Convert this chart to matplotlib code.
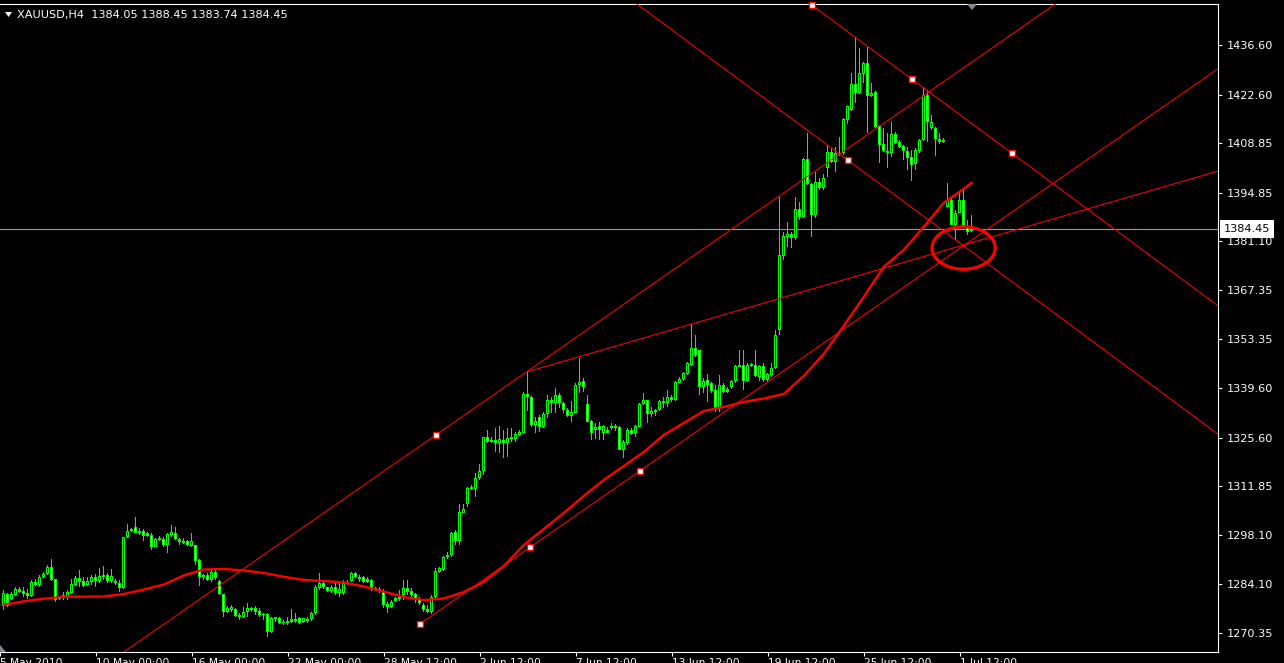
import matplotlib
matplotlib.use("Agg")
import matplotlib.pyplot as plt
from matplotlib.patches import Ellipse, Polygon

symbol = "XAUUSD,H4"

opens = [
    1277.98, 1281.28, 1279.86, 1281.09, 1282.69, 1282.31, 1281.75, 1280.81, 1284.86, 1283.92,
    1286.08, 1287.03, 1289.10, 1285.52, 1279.86, 1280.43, 1280.62, 1281.56, 1283.92, 1285.80,
    1285.14, 1283.92, 1284.86, 1286.08, 1285.14, 1286.08, 1286.74, 1285.14, 1285.14, 1284.39,
    1282.97, 1297.39, 1299.28, 1300.22, 1298.71, 1299.28, 1298.53, 1298.05, 1294.76, 1296.64,
    1296.83, 1295.23, 1298.05, 1298.71, 1296.83, 1296.45, 1296.26, 1294.94, 1295.23, 1290.99,
    1286.08, 1286.74, 1285.33, 1287.69, 1285.05, 1281.37, 1276.38, 1276.85, 1277.04, 1275.43,
    1274.77, 1276.38, 1277.32, 1277.32, 1276.66, 1275.43, 1275.72, 1270.72, 1274.21, 1274.49,
    1273.08, 1273.08, 1274.21, 1273.83, 1274.49, 1273.55, 1274.21, 1274.21, 1275.91, 1282.97,
    1284.39, 1283.26, 1282.31, 1283.26, 1281.75, 1281.75, 1284.39, 1285.14, 1287.40, 1286.27,
    1286.08, 1284.86, 1285.33, 1282.97, 1282.69, 1282.03, 1278.54, 1277.79, 1279.49, 1279.86,
    1281.09, 1282.97, 1282.31, 1281.37, 1279.86, 1278.26, 1277.04, 1276.38, 1280.62, 1287.69,
    1288.16, 1291.74, 1292.40, 1299.00, 1296.45, 1304.37, 1306.82, 1310.96, 1310.96, 1314.07,
    1316.24, 1325.67, 1324.44, 1324.91, 1324.16, 1324.91, 1323.97, 1325.10, 1325.10, 1326.33,
    1326.99, 1337.92, 1337.17, 1329.15, 1331.51, 1328.49, 1332.26, 1336.22, 1335.28, 1337.64,
    1335.28, 1333.40, 1331.70, 1332.64, 1340.46, 1341.69, 1335.09, 1330.38, 1327.74, 1328.87,
    1326.99, 1327.74, 1328.21, 1328.87, 1328.49, 1322.09, 1324.16, 1327.74, 1326.80, 1328.68,
    1335.09, 1336.22, 1332.26, 1332.92, 1333.40, 1336.03, 1335.47, 1337.17, 1336.22, 1341.12,
    1342.07, 1343.57, 1346.12, 1350.83, 1350.36, 1339.80, 1341.88, 1340.94, 1339.05, 1333.87,
    1340.46, 1338.58, 1339.80, 1341.69, 1345.65, 1346.12, 1341.69, 1345.84, 1346.12, 1342.82,
    1345.84, 1341.88, 1343.29, 1345.18, 1356.02, 1376.95, 1382.41, 1383.17, 1381.94, 1390.14,
    1388.06, 1404.28, 1397.30, 1388.54, 1397.96, 1396.08, 1401.73, 1406.44, 1403.62, 1405.78,
    1405.97, 1415.40, 1418.22, 1425.57, 1423.12, 1428.40, 1431.61, 1422.18, 1423.41, 1413.70,
    1408.61, 1405.97, 1405.97, 1411.44, 1409.27, 1408.05, 1406.73, 1404.84, 1402.96, 1406.73,
    1409.74, 1422.46, 1413.04, 1413.04, 1409.27, 1409.27, 1390.89, 1392.78, 1385.71, 1389.20,
    1392.78, 1385.24, 1384.05,
]

highs = [
    1282.50, 1281.56, 1282.03, 1283.26, 1283.26, 1283.26, 1282.69, 1285.33, 1285.52, 1286.74,
    1287.69, 1289.57, 1291.17, 1285.52, 1280.81, 1282.03, 1282.50, 1285.52, 1286.46, 1288.16,
    1286.27, 1286.08, 1286.74, 1287.03, 1288.63, 1289.29, 1287.40, 1288.35, 1285.52, 1285.33,
    1297.39, 1301.16, 1299.94, 1303.05, 1299.94, 1299.66, 1299.00, 1298.53, 1297.11, 1297.77,
    1297.58, 1298.53, 1300.88, 1300.41, 1297.11, 1297.11, 1296.64, 1298.53, 1295.23, 1291.17,
    1287.03, 1287.22, 1288.16, 1288.35, 1285.33, 1281.37, 1277.98, 1278.26, 1277.32, 1275.91,
    1277.79, 1278.73, 1277.79, 1277.98, 1277.32, 1275.91, 1275.91, 1274.77, 1274.96, 1274.96,
    1274.02, 1274.77, 1277.04, 1275.91, 1274.96, 1274.49, 1274.96, 1276.38, 1283.92, 1287.22,
    1285.33, 1283.45, 1283.92, 1284.39, 1284.86, 1285.33, 1285.33, 1287.69, 1287.69, 1286.74,
    1286.46, 1286.08, 1285.52, 1283.45, 1283.26, 1282.69, 1279.20, 1279.68, 1280.62, 1282.50,
    1285.33, 1285.33, 1282.97, 1281.75, 1280.43, 1278.73, 1278.26, 1281.09, 1288.63, 1289.10,
    1292.12, 1293.34, 1299.00, 1299.47, 1306.82, 1306.82, 1311.72, 1312.19, 1315.49, 1318.13,
    1325.67, 1327.74, 1325.67, 1328.21, 1328.87, 1327.74, 1328.21, 1328.21, 1327.27, 1327.74,
    1338.58, 1344.23, 1337.35, 1331.51, 1331.98, 1332.92, 1337.64, 1337.17, 1339.52, 1338.11,
    1335.75, 1333.87, 1336.03, 1340.94, 1348.00, 1342.35, 1337.64, 1330.57, 1329.81, 1330.10,
    1329.15, 1328.49, 1329.81, 1329.44, 1328.87, 1324.91, 1328.21, 1328.21, 1329.15, 1335.28,
    1338.30, 1336.22, 1334.34, 1333.58, 1336.22, 1337.17, 1339.05, 1337.64, 1341.69, 1342.82,
    1344.23, 1347.06, 1357.70, 1354.60, 1350.36, 1342.35, 1343.57, 1341.41, 1340.46, 1343.29,
    1341.12, 1339.99, 1341.88, 1346.12, 1350.36, 1350.36, 1346.59, 1346.78, 1350.36, 1346.12,
    1346.59, 1343.95, 1346.59, 1356.01, 1393.72, 1383.82, 1386.65, 1383.82, 1393.72, 1392.31,
    1404.56, 1411.63, 1397.49, 1400.79, 1398.90, 1400.13, 1408.33, 1407.39, 1407.86, 1410.68,
    1415.87, 1419.35, 1428.78, 1438.96, 1435.66, 1431.89, 1436.13, 1425.76, 1423.69, 1413.98,
    1413.04, 1411.63, 1414.93, 1412.10, 1409.74, 1408.33, 1407.86, 1406.91, 1407.39, 1409.93,
    1424.82, 1423.88, 1416.81, 1413.32, 1411.63, 1410.21, 1397.49, 1393.25, 1389.95, 1394.66,
    1395.60, 1387.12, 1388.45,
]

lows = [
    1276.85, 1277.79, 1279.68, 1280.81, 1281.56, 1280.62, 1279.86, 1280.62, 1283.63, 1283.45,
    1285.80, 1286.74, 1285.14, 1279.20, 1279.68, 1279.68, 1279.68, 1281.37, 1283.63, 1283.26,
    1283.26, 1283.63, 1283.92, 1283.26, 1284.39, 1285.33, 1284.58, 1284.39, 1283.92, 1282.03,
    1282.69, 1297.11, 1299.00, 1298.53, 1298.05, 1296.45, 1297.39, 1293.81, 1294.57, 1296.45,
    1294.76, 1292.87, 1297.58, 1296.64, 1295.23, 1295.51, 1294.94, 1294.76, 1289.57, 1283.63,
    1285.33, 1285.14, 1284.86, 1285.33, 1281.09, 1274.96, 1276.09, 1276.38, 1274.77, 1274.02,
    1274.49, 1274.96, 1276.38, 1275.43, 1274.96, 1274.02, 1269.31, 1270.44, 1273.55, 1272.89,
    1272.61, 1272.61, 1273.08, 1273.08, 1272.89, 1273.08, 1273.08, 1273.83, 1275.43, 1282.50,
    1282.69, 1282.03, 1281.75, 1281.09, 1280.62, 1281.09, 1283.92, 1284.86, 1285.80, 1284.86,
    1284.58, 1284.39, 1282.31, 1282.31, 1281.75, 1277.32, 1275.91, 1277.32, 1279.20, 1279.49,
    1279.68, 1281.09, 1280.62, 1278.73, 1278.26, 1276.38, 1275.91, 1275.72, 1280.15, 1287.40,
    1287.97, 1291.17, 1291.93, 1295.23, 1295.23, 1304.18, 1306.06, 1310.78, 1308.89, 1313.60,
    1315.02, 1323.97, 1323.97, 1321.61, 1321.14, 1319.73, 1320.20, 1324.44, 1324.44, 1326.04,
    1326.80, 1333.21, 1328.68, 1326.99, 1327.27, 1328.21, 1331.04, 1332.64, 1332.45, 1333.87,
    1332.45, 1331.51, 1330.10, 1332.45, 1338.30, 1338.58, 1330.10, 1324.91, 1325.10, 1324.91,
    1324.91, 1326.80, 1327.74, 1327.55, 1322.09, 1319.73, 1323.50, 1326.33, 1325.86, 1328.49,
    1334.81, 1329.63, 1331.51, 1331.70, 1333.21, 1333.87, 1334.15, 1335.75, 1336.03, 1340.94,
    1341.69, 1343.29, 1345.84, 1348.47, 1337.64, 1338.11, 1335.75, 1338.30, 1332.92, 1332.92,
    1338.11, 1338.11, 1339.24, 1341.12, 1345.46, 1339.05, 1341.41, 1345.65, 1342.82, 1341.69,
    1341.41, 1341.41, 1342.82, 1344.89, 1354.60, 1375.80, 1379.58, 1379.11, 1381.47, 1387.12,
    1387.59, 1397.02, 1382.41, 1387.59, 1395.60, 1395.60, 1399.37, 1403.14, 1400.79, 1405.22,
    1405.50, 1414.27, 1418.04, 1420.11, 1422.75, 1425.76, 1411.63, 1421.80, 1413.04, 1403.14,
    1406.44, 1401.73, 1405.03, 1408.61, 1407.39, 1404.09, 1401.26, 1398.24, 1401.26, 1405.97,
    1409.55, 1409.27, 1412.57, 1405.22, 1408.61, 1408.99, 1390.89, 1385.71, 1381.47, 1389.01,
    1384.76, 1382.88, 1383.74,
]

closes = [
    1281.56, 1277.98, 1281.28, 1282.69, 1282.03, 1281.37, 1280.81, 1284.86, 1283.92, 1286.08,
    1287.03, 1289.10, 1285.33, 1279.68, 1280.62, 1281.09, 1281.84, 1284.20, 1285.80, 1284.86,
    1283.63, 1285.14, 1286.27, 1285.14, 1286.46, 1286.74, 1285.14, 1286.46, 1284.39, 1282.97,
    1297.39, 1299.28, 1299.66, 1298.71, 1299.28, 1297.77, 1297.77, 1294.76, 1296.83, 1297.11,
    1295.23, 1298.34, 1299.00, 1296.83, 1296.17, 1295.70, 1295.23, 1296.45, 1290.80, 1286.08,
    1286.74, 1285.33, 1287.69, 1285.80, 1281.37, 1276.38, 1277.32, 1277.79, 1275.15, 1274.77,
    1276.38, 1277.32, 1276.85, 1276.38, 1275.43, 1275.72, 1270.72, 1274.49, 1274.77, 1273.27,
    1273.55, 1273.83, 1273.55, 1274.21, 1273.27, 1274.49, 1273.83, 1275.91, 1283.26, 1284.58,
    1283.26, 1282.31, 1283.26, 1281.56, 1282.69, 1284.58, 1284.86, 1287.40, 1286.08, 1285.52,
    1284.86, 1285.52, 1282.69, 1282.50, 1282.31, 1278.26, 1277.79, 1279.20, 1280.15, 1280.62,
    1282.97, 1282.03, 1281.09, 1279.86, 1278.73, 1276.85, 1276.38, 1280.62, 1287.97, 1288.63,
    1291.74, 1292.40, 1298.71, 1296.45, 1304.46, 1305.31, 1311.25, 1311.72, 1314.07, 1316.24,
    1325.67, 1324.44, 1324.91, 1324.16, 1325.10, 1323.97, 1325.39, 1325.67, 1326.61, 1327.27,
    1337.92, 1337.17, 1329.15, 1330.38, 1328.68, 1332.26, 1336.22, 1335.47, 1337.64, 1335.28,
    1333.40, 1331.79, 1332.92, 1340.46, 1341.41, 1339.99, 1330.10, 1326.80, 1328.68, 1327.74,
    1328.87, 1326.99, 1328.87, 1328.21, 1322.09, 1324.44, 1327.74, 1326.61, 1328.87, 1335.09,
    1336.22, 1332.26, 1333.21, 1333.40, 1336.03, 1335.47, 1337.17, 1336.22, 1341.41, 1342.07,
    1343.76, 1346.59, 1350.83, 1348.95, 1339.99, 1341.69, 1340.46, 1338.86, 1333.87, 1340.46,
    1338.58, 1339.24, 1341.69, 1345.84, 1346.12, 1341.69, 1346.12, 1346.40, 1343.01, 1345.84,
    1341.88, 1343.57, 1345.18, 1354.60, 1377.23, 1382.60, 1383.17, 1381.94, 1390.14, 1388.06,
    1404.28, 1397.30, 1388.54, 1397.96, 1396.08, 1398.90, 1406.44, 1403.62, 1405.97, 1406.16,
    1415.59, 1419.35, 1425.57, 1423.12, 1428.59, 1431.61, 1422.18, 1422.94, 1413.51, 1408.33,
    1406.73, 1406.73, 1411.44, 1408.80, 1407.86, 1406.73, 1404.56, 1402.67, 1406.91, 1409.74,
    1422.46, 1414.93, 1414.93, 1409.93, 1409.93, 1409.74, 1392.78, 1385.71, 1389.20, 1392.78,
    1385.24, 1383.82, 1384.45,
]

# moving average readings (bar index, price)
ma_bars = [0, 5, 10, 15, 20, 25, 30, 35, 40, 45, 50, 55, 60, 65, 70, 75, 80, 85, 90, 95,
           100, 105, 110, 115, 120, 125, 130, 135, 140, 145, 150, 155, 160, 165, 170, 175,
           180, 185, 190, 195, 200, 205, 210, 215, 220, 225, 230, 235, 240, 242]
ma_values = [1278.26, 1279.31, 1280.04, 1280.58, 1280.61, 1280.67, 1281.37, 1282.65, 1284.06,
             1286.61, 1288.30, 1288.44, 1288.02, 1287.31, 1286.24, 1285.33, 1285.05, 1284.63,
             1283.50, 1282.03, 1280.53, 1279.62, 1280.10, 1281.94, 1284.77, 1289.29, 1295.23,
             1299.76, 1304.28, 1309.09, 1313.60, 1317.56, 1321.52, 1326.33, 1329.72, 1333.11,
             1334.25, 1335.66, 1336.65, 1337.92, 1343.01, 1349.23, 1357.15, 1365.35, 1373.83,
             1378.64, 1385.14, 1391.93, 1395.88, 1397.62]

price_ticks = [1436.60, 1422.60, 1408.85, 1394.85, 1381.10, 1367.35, 1353.35,
               1339.60, 1325.60, 1311.85, 1298.10, 1284.10, 1270.35]
time_tick_bars = [-1, 23, 47, 71, 95, 119, 143, 167, 191, 215, 239]
time_tick_labels = ["5 May 2010", "10 May 00:00", "16 May 00:00", "22 May 00:00",
                    "28 May 12:00", "2 Jun 12:00", "7 Jun 12:00", "13 Jun 12:00",
                    "19 Jun 12:00", "25 Jun 12:00", "1 Jul 12:00"]

# drawn objects, anchored as (bar, price)
up_channel_base = [(104, 1272.89), (159, 1316.15)]
up_channel_third = (108, 1326.33)
down_channel_base = [(202, 1447.91), (252, 1406.06)]
down_channel_third = (211, 1404.08)
resistance_line = [(131, 1344.23), (172, 1357.70)]
ellipse_center = (240.0, 1379.2)
ellipse_size = (15.8, 12.0)

W, H = 1284, 663
GREEN = "#00ff00"
RED = "#ff0000"

plt.rcParams["font.family"] = ["DejaVu Sans"]
plt.rcParams["font.size"] = 8.0

fig = plt.figure(figsize=(W / 100, H / 100), dpi=100, facecolor="black")
ax = fig.add_axes([0, 11 / H, 1218 / W, 648 / H], facecolor="black")
ax.set_xlim(-0.875, 303.625)
ax.set_ylim(1264.97, 1448.19)
x_right = ax.get_xlim()[1]
ylo, yhi = ax.get_ylim()
unit = (yhi - ylo) / 648.0  # price covered by one pixel row


def px(x, y):
    return (x / W, 1 - y / H)


# candles: 1px green wick, 3px green body with a 1px core
# (black core for a rising bar, white core for a falling one)
n = len(closes)
xs = list(range(n))
body_lo = [min(o, c) for o, c in zip(opens, closes)]
body_hi = [max(o, c) for o, c in zip(opens, closes)]
body_h = [max(h - l, unit) for l, h in zip(body_lo, body_hi)]
ax.bar(xs, [h - l for l, h in zip(lows, highs)], width=0.25, bottom=lows,
       color=GREEN, linewidth=0, antialiased=False, zorder=3)
ax.bar(xs, body_h, width=0.75, bottom=body_lo, color=GREEN, linewidth=0,
       antialiased=False, zorder=4)
core_x, core_b, core_h, core_c = [], [], [], []
for i in xs:
    if body_h[i] > 2.5 * unit:
        core_x.append(i)
        core_b.append(body_lo[i] + unit)
        core_h.append(body_h[i] - 2 * unit)
        core_c.append("black" if closes[i] >= opens[i] else "white")
ax.bar(core_x, core_h, width=0.25, bottom=core_b, color=core_c, linewidth=0,
       antialiased=False, zorder=4.5)

# moving average
ax.plot(ma_bars, ma_values, color=RED, lw=1.7, zorder=6, solid_joinstyle="round")


def slope(p, q):
    return (q[1] - p[1]) / (q[0] - p[0])


def ray(p, k):
    ax.plot([p[0], x_right], [p[1], p[1] + k * (x_right - p[0])], color=RED, lw=0.75, zorder=5)


k_up = slope(*up_channel_base)
k_dn = slope(*down_channel_base)
ray(up_channel_base[0], k_up)
ax.axline(up_channel_third, slope=k_up, color=RED, lw=0.75, zorder=5)
ray(down_channel_base[0], k_dn)
ax.axline(down_channel_third, slope=k_dn, color=RED, lw=0.75, zorder=5)
ray(resistance_line[0], slope(*resistance_line))

# selection handles of the channels
handles = [up_channel_base[0], up_channel_base[1],
           ((up_channel_base[0][0] + up_channel_base[1][0]) / 2,
            (up_channel_base[0][1] + up_channel_base[1][1]) / 2),
           up_channel_third,
           down_channel_base[0], down_channel_base[1],
           ((down_channel_base[0][0] + down_channel_base[1][0]) / 2,
            (down_channel_base[0][1] + down_channel_base[1][1]) / 2),
           down_channel_third]
ax.plot([h[0] for h in handles], [h[1] for h in handles], ls="none", marker="s",
        ms=3.8, mfc="white", mec=RED, mew=1.0, zorder=8, clip_on=False)

ax.add_patch(Ellipse(ellipse_center, ellipse_size[0], ellipse_size[1], fill=False,
                     edgecolor=RED, lw=2.3, zorder=7))

# last price line and label
last = closes[-1]
ax.axhline(last, color="#9a9a9a", lw=0.8, zorder=2)

# axes styling
for side in ("top", "right", "bottom"):
    ax.spines[side].set_color("white")
    ax.spines[side].set_linewidth(0.8)
ax.spines["left"].set_visible(False)

ax.yaxis.tick_right()
ax.set_yticks(price_ticks)
ax.set_yticklabels([f"{v:.2f}" for v in price_ticks])
ax.tick_params(axis="y", colors="white", length=3, width=0.8, pad=3, labelsize=8.1)

ax.set_xticks(time_tick_bars)
ax.set_xticklabels(time_tick_labels, ha="left")
ax.tick_params(axis="x", colors="white", length=3, width=0.8, pad=1.5, labelsize=7.7)

ax.annotate(f"{last:.2f}", xy=(1.0, last), xycoords=("axes fraction", "data"),
            xytext=(6, 0), textcoords="offset pixels", ha="left", va="center",
            color="black", fontsize=8.1, annotation_clip=False, zorder=10,
            bbox=dict(boxstyle="square,pad=0.35", fc="white", ec="none"))

# header
fig.patches.append(Polygon([px(5, 12), px(12, 12), px(8.5, 17)], closed=True,
                           transform=fig.transFigure, facecolor="white", edgecolor="none"))
fig.text(17 / W, 1 - 15 / H,
         f"{symbol}  {opens[-1]:.2f} {highs[-1]:.2f} {lows[-1]:.2f} {closes[-1]:.2f}",
         color="white", fontsize=8.1, va="center", ha="left")

# scroll markers
fig.patches.append(Polygon([px(967, 4), px(977, 4), px(972, 10)], closed=True,
                           transform=fig.transFigure, facecolor="#7f8a95", edgecolor="none"))
fig.patches.append(Polygon([px(0, 645), px(0, 652), px(6, 652)], closed=True,
                           transform=fig.transFigure, facecolor="#7f8a95", edgecolor="none"))

fig.savefig("out.png", dpi=100, facecolor="black")
